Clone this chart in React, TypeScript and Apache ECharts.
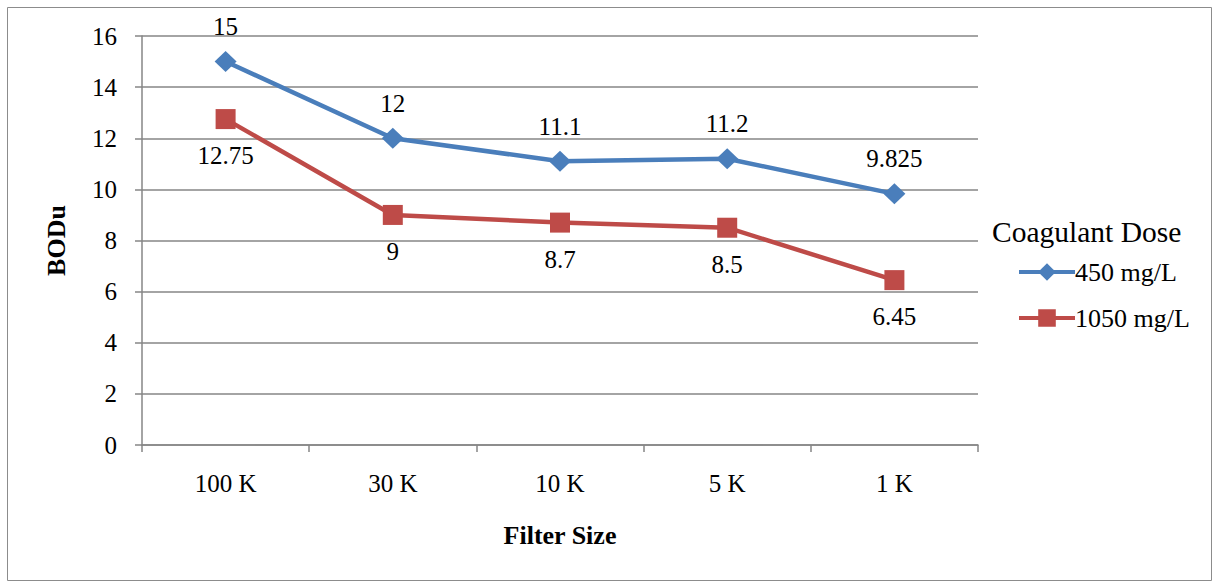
import React, { useEffect, useRef } from "react";
import * as echarts from "echarts";

// Filter sizes on the x axis
const filterSizes = ["100 K", "30 K", "10 K", "5 K", "1 K"];
// BODu for each coagulant dose
const dose450 = [15, 12, 11.1, 11.2, 9.825];
const dose1050 = [12.75, 9, 8.7, 8.5, 6.45];
const seriesNames = ["450 mg/L", "1050 mg/L"];
const legendTitle = "Coagulant Dose";

const FONT = "Liberation Serif, Times New Roman, serif";
const GRID = "#868686";
const BLUE = "#4a7ebb";
const RED = "#be4b48";

export default function App() {
  const ref = useRef<HTMLDivElement>(null);

  useEffect(() => {
    if (!ref.current) return;
    const chart = echarts.init(ref.current, undefined, { renderer: "svg" });
    chart.setOption({
      animation: false,
      backgroundColor: "#ffffff",
      textStyle: { fontFamily: FONT, color: "#000" },
      graphic: [
        {
          type: "rect",
          shape: { x: 7.5, y: 7.5, width: 1204, height: 573 },
          style: { fill: "none", stroke: "#8c8c8c", lineWidth: 1 },
          silent: true,
        },
      ],
      title: {
        text: legendTitle,
        left: 987,
        top: 212,
        textStyle: { fontFamily: FONT, fontSize: 29.5, fontWeight: "normal", color: "#000" },
      },
      legend: {
        orient: "vertical",
        left: 1012,
        top: 254,
        itemWidth: 56,
        itemHeight: 22,
        itemGap: 20,
        data: seriesNames,
        lineStyle: { width: 4 },
        textStyle: { fontFamily: FONT, fontSize: 26, color: "#000", padding: [0, 0, 0, -5] },
      },
      grid: { left: 142, right: 235, top: 36, bottom: 137 },
      xAxis: {
        type: "category",
        data: filterSizes,
        boundaryGap: true,
        name: "Filter Size",
        nameLocation: "middle",
        nameGap: 77,
        nameTextStyle: { fontFamily: FONT, fontSize: 26, fontWeight: "bold", color: "#000" },
        axisLine: { lineStyle: { color: GRID, width: 1.5 } },
        axisTick: { show: true, length: 7, lineStyle: { color: GRID, width: 1.5 } },
        axisLabel: { fontFamily: FONT, fontSize: 25, color: "#000", margin: 26 },
        splitLine: { show: false },
      },
      yAxis: {
        type: "value",
        min: 0,
        max: 16,
        interval: 2,
        name: "BODu",
        nameLocation: "middle",
        nameRotate: 90,
        nameGap: 73,
        nameTextStyle: { fontFamily: FONT, fontSize: 26, fontWeight: "bold", color: "#000" },
        axisLine: { show: true, lineStyle: { color: GRID, width: 1.5 } },
        axisTick: { show: true, length: 7, lineStyle: { color: GRID, width: 1.5 } },
        axisLabel: { fontFamily: FONT, fontSize: 25, color: "#000", margin: 25 },
        splitLine: { show: true, lineStyle: { color: GRID, width: 1.5 } },
      },
      series: [
        {
          name: seriesNames[0],
          type: "line",
          data: dose450,
          color: BLUE,
          lineStyle: { width: 4.5, color: BLUE },
          symbol: "diamond",
          symbolSize: [22, 21],
          itemStyle: { color: BLUE },
          label: {
            show: true,
            position: "top",
            distance: 12,
            fontFamily: FONT,
            fontSize: 25,
            color: "#000",
          },
          z: 3,
        },
        {
          name: seriesNames[1],
          type: "line",
          data: dose1050,
          color: RED,
          lineStyle: { width: 4.5, color: RED },
          symbol: "rect",
          symbolSize: 20,
          itemStyle: { color: RED },
          label: {
            show: true,
            position: "bottom",
            distance: 14,
            fontFamily: FONT,
            fontSize: 25,
            color: "#000",
          },
          z: 2,
        },
      ],
    });
    return () => chart.dispose();
  }, []);

  return (
    <div
      ref={ref}
      style={{ position: "absolute", left: 0, top: 0, width: 1213, height: 582 }}
    />
  );
}
